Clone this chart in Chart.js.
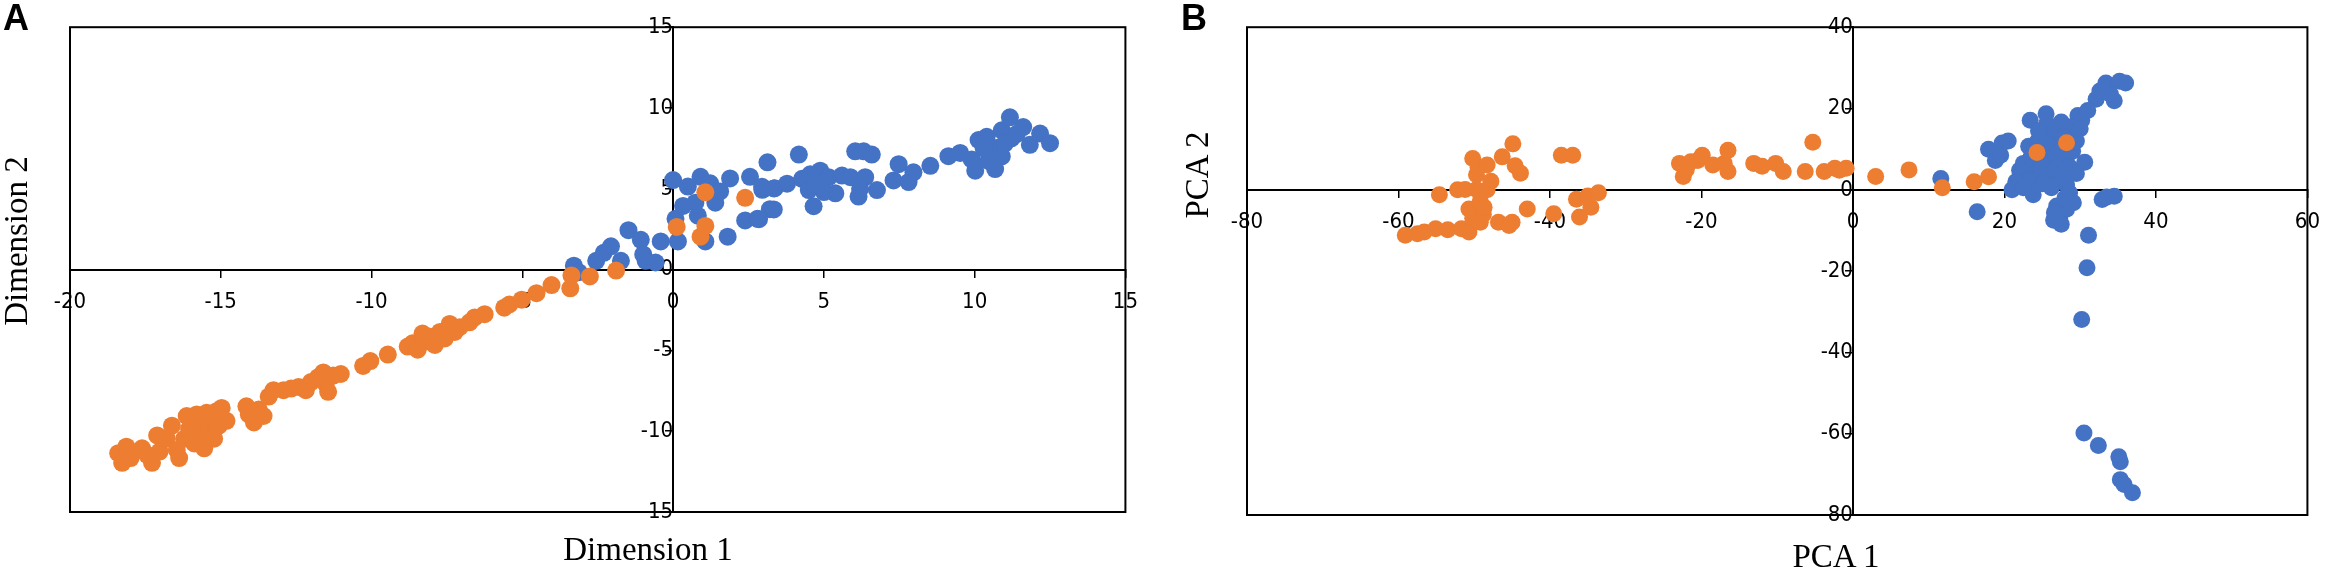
<!DOCTYPE html>
<html>
<head>
<meta charset="utf-8">
<script src="https://cdn.jsdelivr.net/npm/chart.js@4"></script>
<style>
  html, body { margin:0; padding:0; background:#fff; }
  #wrap { position:relative; width:2332px; height:571px; background:#fff; overflow:hidden; }
  .pane { position:absolute; top:0; height:571px; }
  .lbl { position:absolute; font-family:'Liberation Sans', Arial, sans-serif; font-weight:bold; font-size:36px; line-height:36px; color:#000; }
  .ttl { position:absolute; font-family:'Liberation Serif', 'DejaVu Serif', serif; font-size:33px; line-height:33px; color:#000; white-space:nowrap; transform:translate(-50%,-50%); }
</style>
</head>
<body>
<div id="wrap">
  <div class="pane" style="left:0;width:1150px;"><canvas id="chartA"></canvas></div>
  <div class="pane" style="left:1150px;width:1182px;"><canvas id="chartB"></canvas></div>
  <div class="lbl" style="left:3px;top:0px;">A</div>
  <div class="lbl" style="left:1181px;top:0px;">B</div>
  <div class="ttl" style="left:648px;top:549px;">Dimension 1</div>
  <div class="ttl" style="left:16px;top:241px;transform:translate(-50%,-50%) rotate(-90deg);">Dimension 2</div>
  <div class="ttl" style="left:1836px;top:556px;">PCA 1</div>
  <div class="ttl" style="left:1197px;top:175px;transform:translate(-50%,-50%) rotate(-90deg);">PCA 2</div>
</div>
<script>
// ---------- Data: panel A (Dimension 1 / Dimension 2) ----------
const dimOrange = [
  [-18.40,-11.36],[-18.27,-11.96],[-18.13,-10.96],[-17.99,-11.66],[-17.61,-11.06],[-17.44,-11.46],[-17.28,-11.96],
  [-17.11,-10.26],[-17.03,-11.26],[-16.79,-10.46],[-16.62,-9.66],[-16.46,-11.16],[-16.38,-11.66],[-16.21,-10.46],
  [-16.13,-9.06],[-16.05,-9.86],[-15.88,-10.76],[-15.80,-8.96],[-15.72,-9.46],[-15.63,-10.16],[-15.55,-11.06],
  [-15.47,-8.86],[-15.39,-9.86],[-15.31,-9.26],[-15.22,-10.46],[-15.14,-8.76],[-15.06,-9.66],[-14.97,-8.56],
  [-14.81,-9.36],[-14.15,-8.46],[-14.07,-8.96],[-13.90,-9.46],[-13.74,-8.66],[-13.58,-9.06],[-13.41,-7.86],
  [-13.25,-7.46],[-12.92,-7.46],[-12.67,-7.36],[-12.42,-7.26],[-12.18,-7.46],[-12.01,-6.96],[-11.77,-6.66],
  [-11.60,-6.36],[-11.52,-7.06],[-11.44,-7.56],[-11.27,-6.56],[-11.02,-6.46],[-10.28,-5.96],[-10.04,-5.66],
  [-9.46,-5.26],[-8.80,-4.76],[-8.64,-4.56],[-8.47,-4.96],[-8.31,-3.96],[-8.23,-4.46],[-8.06,-4.16],[-7.90,-4.66],
  [-7.73,-3.86],[-7.57,-4.26],[-7.41,-3.36],[-7.24,-3.86],[-7.08,-3.56],[-6.75,-3.26],[-6.58,-2.96],[-6.25,-2.76],
  [-5.60,-2.36],[-5.43,-2.16],[-5.02,-1.86],[-4.53,-1.46],[-4.03,-0.96],[-3.41,-1.16],[-3.37,-0.36],[-2.76,-0.42],
  [-1.89,-0.06],[0.12,2.64],[0.91,2.04],[1.07,2.70],[1.07,4.78],[2.39,4.44]
];
const dimBlue = [
  [-3.29,0.24],[-3.13,-0.16],[-2.55,0.54],[-2.30,1.04],[-2.06,1.44],[-1.73,0.54],[-1.48,2.44],[-1.07,1.84],
  [-0.99,0.94],[-0.91,0.54],[-0.58,0.44],[-0.41,1.74],[0.00,5.54],[0.08,3.14],[0.16,1.74],[0.33,3.94],[0.49,5.14],
  [0.74,4.14],[0.82,3.34],[0.91,5.74],[1.07,1.74],[1.23,5.34],[1.40,4.14],[1.56,4.84],[1.81,2.04],[1.89,5.64],
  [2.39,3.04],[2.55,5.74],[2.80,3.14],[2.96,4.94],[3.13,6.64],[3.21,3.74],[3.37,5.04],[4.17,7.12],[2.95,5.12],
  [3.34,5.02],[3.78,5.32],[4.28,5.62],[4.50,4.92],[4.66,3.92],[4.88,6.12],[4.94,5.32],[5.16,5.72],[5.38,4.72],
  [5.60,5.82],[5.88,5.72],[6.04,7.32],[6.15,4.52],[6.32,7.32],[6.37,5.72],[6.59,7.12],[6.76,4.92],[7.31,5.52],
  [7.48,6.52],[7.81,5.42],[7.97,6.02],[8.53,6.42],[9.13,7.02],[9.52,7.22],[9.90,6.82],[10.02,6.12],[10.13,8.02],
  [10.40,8.22],[10.46,6.72],[10.68,6.22],[10.73,7.52],[10.90,8.62],[11.17,9.42],[11.22,8.12],[11.61,8.82],
  [11.83,7.72],[12.17,8.42],[12.50,7.82],[2.85,3.12],[3.34,3.72],[4.70,5.30],[5.00,4.80],[10.60,7.20],
  [11.00,7.80],[11.40,8.40],[10.30,7.50],[6.20,5.00],[4.55,5.90],[10.90,7.00]
];
// ---------- Data: panel B (PCA 1 / PCA 2) ----------
const pcaOrange = [
  [-59.1,-11.2],[-57.5,-10.8],[-56.6,-10.4],[-55.1,-9.6],[-54.6,-1.2],[-53.5,-9.8],[-52.2,0.0],[-51.7,-9.6],
  [-51.2,0.1],[-50.7,-10.4],[-50.7,-4.7],[-50.2,7.7],[-50.2,-7.0],[-49.7,3.7],[-49.7,0.1],[-49.5,5.5],
  [-49.2,-2.7],[-49.2,-8.0],[-48.8,-6.0],[-48.7,-4.3],[-48.3,6.1],[-48.3,0.0],[-47.8,2.1],[-46.8,-8.0],
  [-46.3,8.1],[-45.4,-8.8],[-45.0,-8.0],[-44.9,11.3],[-44.6,5.9],[-43.9,4.1],[-43.0,-4.7],[-39.5,-5.9],
  [-38.5,8.5],[-37.0,8.5],[-36.5,-2.3],[-36.1,-6.7],[-35.0,-1.5],[-34.6,-4.3],[-33.6,-0.7],[-22.9,6.5],
  [-22.4,3.3],[-22.0,5.0],[-21.4,6.9],[-20.5,7.2],[-19.9,8.5],[-18.5,6.1],[-17.0,6.5],[-16.5,9.7],[-16.5,4.5],
  [-13.1,6.5],[-12.0,5.8],[-10.2,6.5],[-9.2,4.5],[-6.3,4.5],[-5.3,11.7],[-3.8,4.5],[-2.4,5.3],[-1.8,4.8],
  [-0.9,5.3],[3.0,3.3],[7.4,4.9],[11.8,0.5],[16.0,2.0],[17.9,3.2],[24.3,9.2],[28.2,11.6]
];
const pcaBlue = [
  [11.6,2.8],[16.4,-5.4],[21.0,0.0],[23.8,-1.2],[17.9,10.0],[19.7,11.5],[20.5,12.0],[18.8,7.2],[23.2,10.7],
  [23.4,17.1],[25.5,18.7],[25.6,16.3],[26.5,13.9],[27.5,16.7],[29.7,18.3],[30.2,17.1],[32.1,22.3],[32.6,24.3],
  [33.4,26.3],[34.5,21.9],[35.2,26.7],[36.0,26.3],[22.0,4.8],[22.2,3.6],[23.3,3.2],[24.0,5.6],[24.7,3.6],
  [25.8,7.2],[26.0,2.4],[26.5,9.6],[27.3,5.2],[28.2,7.9],[28.6,5.6],[30.6,6.8],[28.2,1.2],[28.6,-0.8],
  [29.1,-3.2],[26.9,-4.0],[26.6,-5.6],[27.3,-7.2],[28.2,-4.8],[31.1,-11.2],[32.9,-2.4],[34.5,-1.6],[24.4,12.0],
  [23.3,2.4],[25.0,9.0],[27.0,11.0],[26.0,5.0],[25.0,1.5],[27.5,3.0],[29.0,9.5],[33.5,-1.8],[34.0,23.5],
  [27.0,-6.0],[24.5,14.5],[28.8,15.5],[31.0,19.5],[22.5,6.5],[23.5,8.0],[24.8,7.0],[26.8,8.5],[25.5,11.5],
  [27.8,13.0],[29.5,4.0],[28.0,-2.0],[27.5,-8.5],[26.5,-7.5],[21.5,2.0],[19.5,8.5],[22.5,0.5],[30.0,15.0],
  [29.5,12.0],[26.2,0.5],[30.9,-19.2],[30.2,-31.9],[30.5,-59.8],[32.4,-62.9],[35.1,-65.7],[35.3,-66.9],
  [35.3,-71.3],[35.8,-72.5],[36.9,-74.5]
];
// axis ranges / tick steps
const dimXRange = [-20, 15], dimYRange = [-15, 15], dimStep = 5;
const pcaXRange = [-80, 60], pcaYRange = [-80, 40], pcaStep = 20;

const BLUE = '#4472C4', ORANGE = '#ED7D31';
const tickFont = { family: "'Liberation Sans Narrow', 'DejaVu Sans Condensed', Roboto, sans-serif", size: 22 };

const toPts = arr => arr.map(p => ({ x: p[0], y: p[1] }));

const frame = {
  id: 'frame',
  beforeDatasetsDraw(chart) {
    const a = chart.chartArea, ctx = chart.ctx;
    ctx.save();
    ctx.strokeStyle = '#000';
    ctx.lineWidth = 2;
    ctx.strokeRect(a.left, a.top, a.right - a.left, a.bottom - a.top);
    ctx.restore();
  }
};

function makeChart(id, orange, blue, xr, yr, step, pad, radius) {
  const axisCommon = (min, max) => ({
    type: 'linear', min, max,
    ticks: { stepSize: step, color: '#000', font: tickFont, padding: 12 },
    grid: { drawOnChartArea: false, drawTicks: true, tickLength: 7, color: '#000', lineWidth: 1.5 },
    border: { display: true, color: '#000', width: 2 }
  });
  const xs = axisCommon(xr[0], xr[1]);
  xs.position = { y: 0 };
  xs.ticks.maxRotation = 0;
  const ys = axisCommon(yr[0], yr[1]);
  ys.position = { x: 0 };
  ys.ticks.padding = 14;
  return new Chart(document.getElementById(id), {
    type: 'scatter',
    data: {
      datasets: [
        // first dataset is drawn on top: orange over blue, as in the reference
        { label: 'orange', data: toPts(orange), backgroundColor: ORANGE, borderColor: ORANGE, pointRadius: radius, borderWidth: 0, pointHoverRadius: radius },
        { label: 'blue', data: toPts(blue), backgroundColor: BLUE, borderColor: BLUE, pointRadius: radius, borderWidth: 0, pointHoverRadius: radius }
      ]
    },
    options: {
      responsive: true, maintainAspectRatio: false, animation: false,
      layout: { padding: pad },
      plugins: { legend: { display: false }, tooltip: { enabled: false } },
      scales: { x: xs, y: ys }
    },
    plugins: [frame]
  });
}

makeChart('chartA', dimOrange, dimBlue, dimXRange, dimYRange, dimStep, { left: 70, right: 22, top: 12, bottom: 59 }, 9);
makeChart('chartB', pcaOrange, pcaBlue, pcaXRange, pcaYRange, pcaStep, { left: 97, right: 15, top: 13, bottom: 56 }, 8.5);
</script>
</body>
</html>
